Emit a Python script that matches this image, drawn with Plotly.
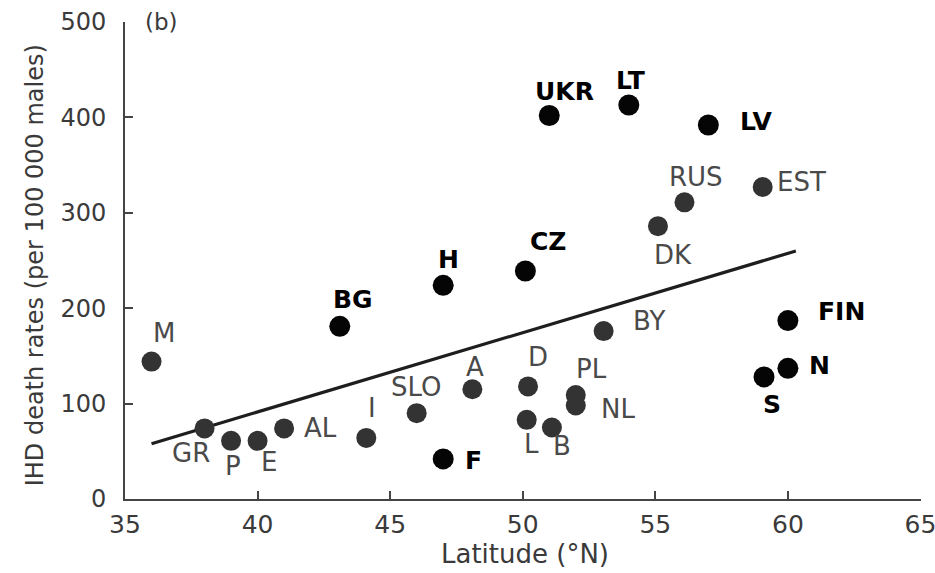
import plotly.graph_objects as go

# Data
countries = ["M", "GR", "P", "E", "AL", "I", "SLO", "A", "D", "L", "B", "PL", "NL", "BY",
             "RUS", "DK", "EST", "BG", "H", "CZ", "F", "UKR", "LT", "LV", "FIN", "N", "S"]
latitude = [36.0, 38.0, 39.0, 40.0, 41.0, 44.1, 46.0, 48.1, 50.2, 50.15, 51.1, 52.0, 52.0, 53.05,
            56.1, 55.1, 59.05, 43.1, 47.0, 50.1, 47.0, 51.0, 54.0, 57.0, 60.0, 60.0, 59.1]
ihd_rate = [144, 74, 61, 61, 74, 64, 90, 115, 118, 83, 75, 109, 98, 176,
            311, 286, 327, 181, 224, 239, 42, 402, 413, 392, 187, 137, 128]
highlight = ["UKR", "LT", "LV", "CZ", "H", "BG", "F", "FIN", "N", "S"]

trend_lat = [36.0, 60.3]
trend_rate = [58, 260]

x_ticks = [35, 40, 45, 50, 55, 60, 65]
y_ticks = [0, 100, 200, 300, 400, 500]

# label offsets in pixels (dx right, dy down) - styling only
label_offsets = {
    "M": (12, -29), "GR": (-14, 25), "P": (2, 25), "E": (11, 21), "AL": (36, 0),
    "I": (6, -30), "SLO": (0, -26), "A": (3, -22), "F": (30, 2), "D": (10, -29),
    "PL": (16, -26), "NL": (42, 3), "L": (5, 24), "B": (10, 19), "BY": (45, -10),
    "FIN": (54, -9), "N": (32, -3), "S": (8, 28), "BG": (13, -27), "H": (5, -26),
    "CZ": (23, -29), "UKR": (15, -24), "LT": (2, -25), "LV": (48, -4),
    "RUS": (12, -25), "DK": (15, 29), "EST": (39, -5),
}

FONT = "DejaVu Sans"

fig = go.Figure()

fig.add_trace(go.Scatter(
    x=trend_lat, y=trend_rate, mode="lines",
    line=dict(color="#1e1e1e", width=3.2), hoverinfo="skip", showlegend=False))

norm_x = [la for c, la in zip(countries, latitude) if c not in highlight]
norm_y = [r for c, r in zip(countries, ihd_rate) if c not in highlight]
bold_x = [la for c, la in zip(countries, latitude) if c in highlight]
bold_y = [r for c, r in zip(countries, ihd_rate) if c in highlight]

fig.add_trace(go.Scatter(
    x=norm_x, y=norm_y, mode="markers",
    marker=dict(size=20, color="#333333", line=dict(width=0)), showlegend=False))
fig.add_trace(go.Scatter(
    x=bold_x, y=bold_y, mode="markers",
    marker=dict(size=21, color="#050505", line=dict(width=0)), showlegend=False))

annotations = []
for c, la, r in zip(countries, latitude, ihd_rate):
    dx, dy = label_offsets[c]
    is_b = c in highlight
    annotations.append(dict(
        x=la, y=r, xref="x", yref="y", text=f"<b>{c}</b>" if is_b else c,
        showarrow=False, xshift=dx, yshift=-dy,
        font=dict(family=FONT, size=25 if is_b else 26, color="#000" if is_b else "#4a4a4a"),
        xanchor="center", yanchor="middle"))

annotations.append(dict(
    x=0.023, y=1.0, xref="paper", yref="paper", text="(b)", showarrow=False,
    xanchor="left", yanchor="middle", font=dict(family=FONT, size=23, color="#3a3a3a")))
annotations.append(dict(
    x=0.5025, y=-0.115, xref="paper", yref="paper", text="Latitude (°N)", showarrow=False,
    xanchor="center", yanchor="middle", font=dict(family=FONT, size=26, color="#3a3a3a")))
annotations.append(dict(
    x=-0.113, y=0.49, xref="paper", yref="paper", text="IHD death rates (per 100 000 males)",
    showarrow=False, textangle=-90, xanchor="center", yanchor="middle",
    font=dict(family=FONT, size=24, color="#3a3a3a")))

fig.update_layout(
    width=935, height=573,
    margin=dict(l=125, r=14, t=22, b=74, autoexpand=False),
    paper_bgcolor="white", plot_bgcolor="white",
    showlegend=False,
    annotations=annotations,
    xaxis=dict(range=[35, 65.02], tickvals=x_ticks, showgrid=False, zeroline=False,
               showline=True, linecolor="#444", linewidth=2, automargin=False,
               ticks="inside", ticklen=8, tickwidth=2, tickcolor="#444",
               ticklabelstandoff=2, ticklabeloverflow="allow",
               tickfont=dict(family=FONT, size=25, color="#3a3a3a")),
    yaxis=dict(range=[0, 500], tickvals=y_ticks, showgrid=False, zeroline=False,
               showline=True, linecolor="#444", linewidth=2, automargin=False,
               ticks="inside", ticklen=8, tickwidth=2, tickcolor="#444",
               ticklabelstandoff=12,
               tickfont=dict(family=FONT, size=24, color="#3a3a3a")),
)

fig.write_html("out.html")
